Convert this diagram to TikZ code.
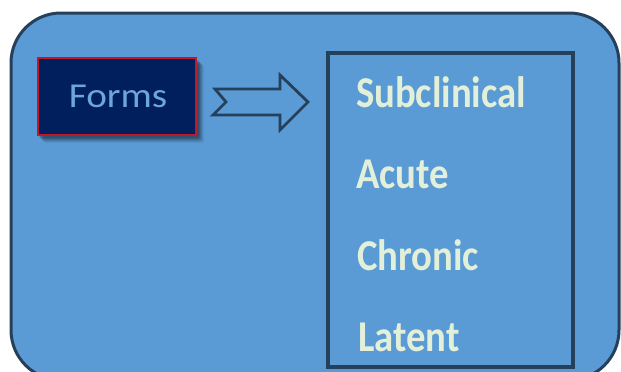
\documentclass[tikz,border=0pt]{standalone}
\usepackage{fontspec}
\setmainfont{Carlito}
\usetikzlibrary{calc}
\definecolor{bgblue}{HTML}{5B9BD5}
\definecolor{frameblue}{HTML}{25405A}
\definecolor{navy}{HTML}{001F5C}
\definecolor{formtxt}{HTML}{6EA6DA}
\definecolor{itemtxt}{HTML}{E2EFD9}
\definecolor{redline}{HTML}{C0182A}
\tikzset{
  every node/.style={inner sep=0pt, outer sep=0pt},
  panel/.style={draw=frameblue, line width=3pt, fill=bgblue, rounded corners=50pt},
  formsbox/.style={draw=redline, line width=2pt, fill=navy},
  listbox/.style={draw=frameblue, line width=3.4pt},
  arrowshape/.style={draw=frameblue, line width=2.8pt, fill=bgblue, line join=miter},
  item/.style={anchor=base west, text=itemtxt, font=\bfseries\fontsize{44}{44}\selectfont, xscale=0.88},
  formlabel/.style={text=formtxt, font=\fontsize{35}{35}\selectfont, xscale=1.12}
}
\begin{document}
\begin{tikzpicture}[x=1pt,y=-1pt]
\useasboundingbox (0,0) rectangle (621,372);
\begin{scope}
\clip (0,0) rectangle (621,372);
\draw[panel] (11,13) rectangle (619,380);
\end{scope}
% shadow of Forms box
\foreach \d/\o in {8/0.05,7/0.07,6/0.09,5/0.11,4/0.13,3/0.13}{
  \fill[black, opacity=\o, rounded corners=2pt] (38+\d-2,58+\d-1) rectangle (196+\d,135+\d);
}
\node[formsbox, minimum width=158pt, minimum height=77pt] (forms) at (117,96.5) {};
\node[formlabel, anchor=base] (formstext) at (118,107) {Forms};
% arrow
\draw[arrowshape] (215,89) -- (280,89) -- (280,75) -- (308,102) -- (280,130) -- (280,115) -- (213,115) -- (226,102) -- cycle;
% list box
\draw[listbox] (328,53) rectangle (573,367);
\node[item] (sub) at (356,107) {Subclinical};
\node[item] (acu) at (356,188) {Acute};
\node[item] (chr) at (357,270) {Chronic};
\node[item] (lat) at (358,351) {Latent};
\end{tikzpicture}
\end{document}
